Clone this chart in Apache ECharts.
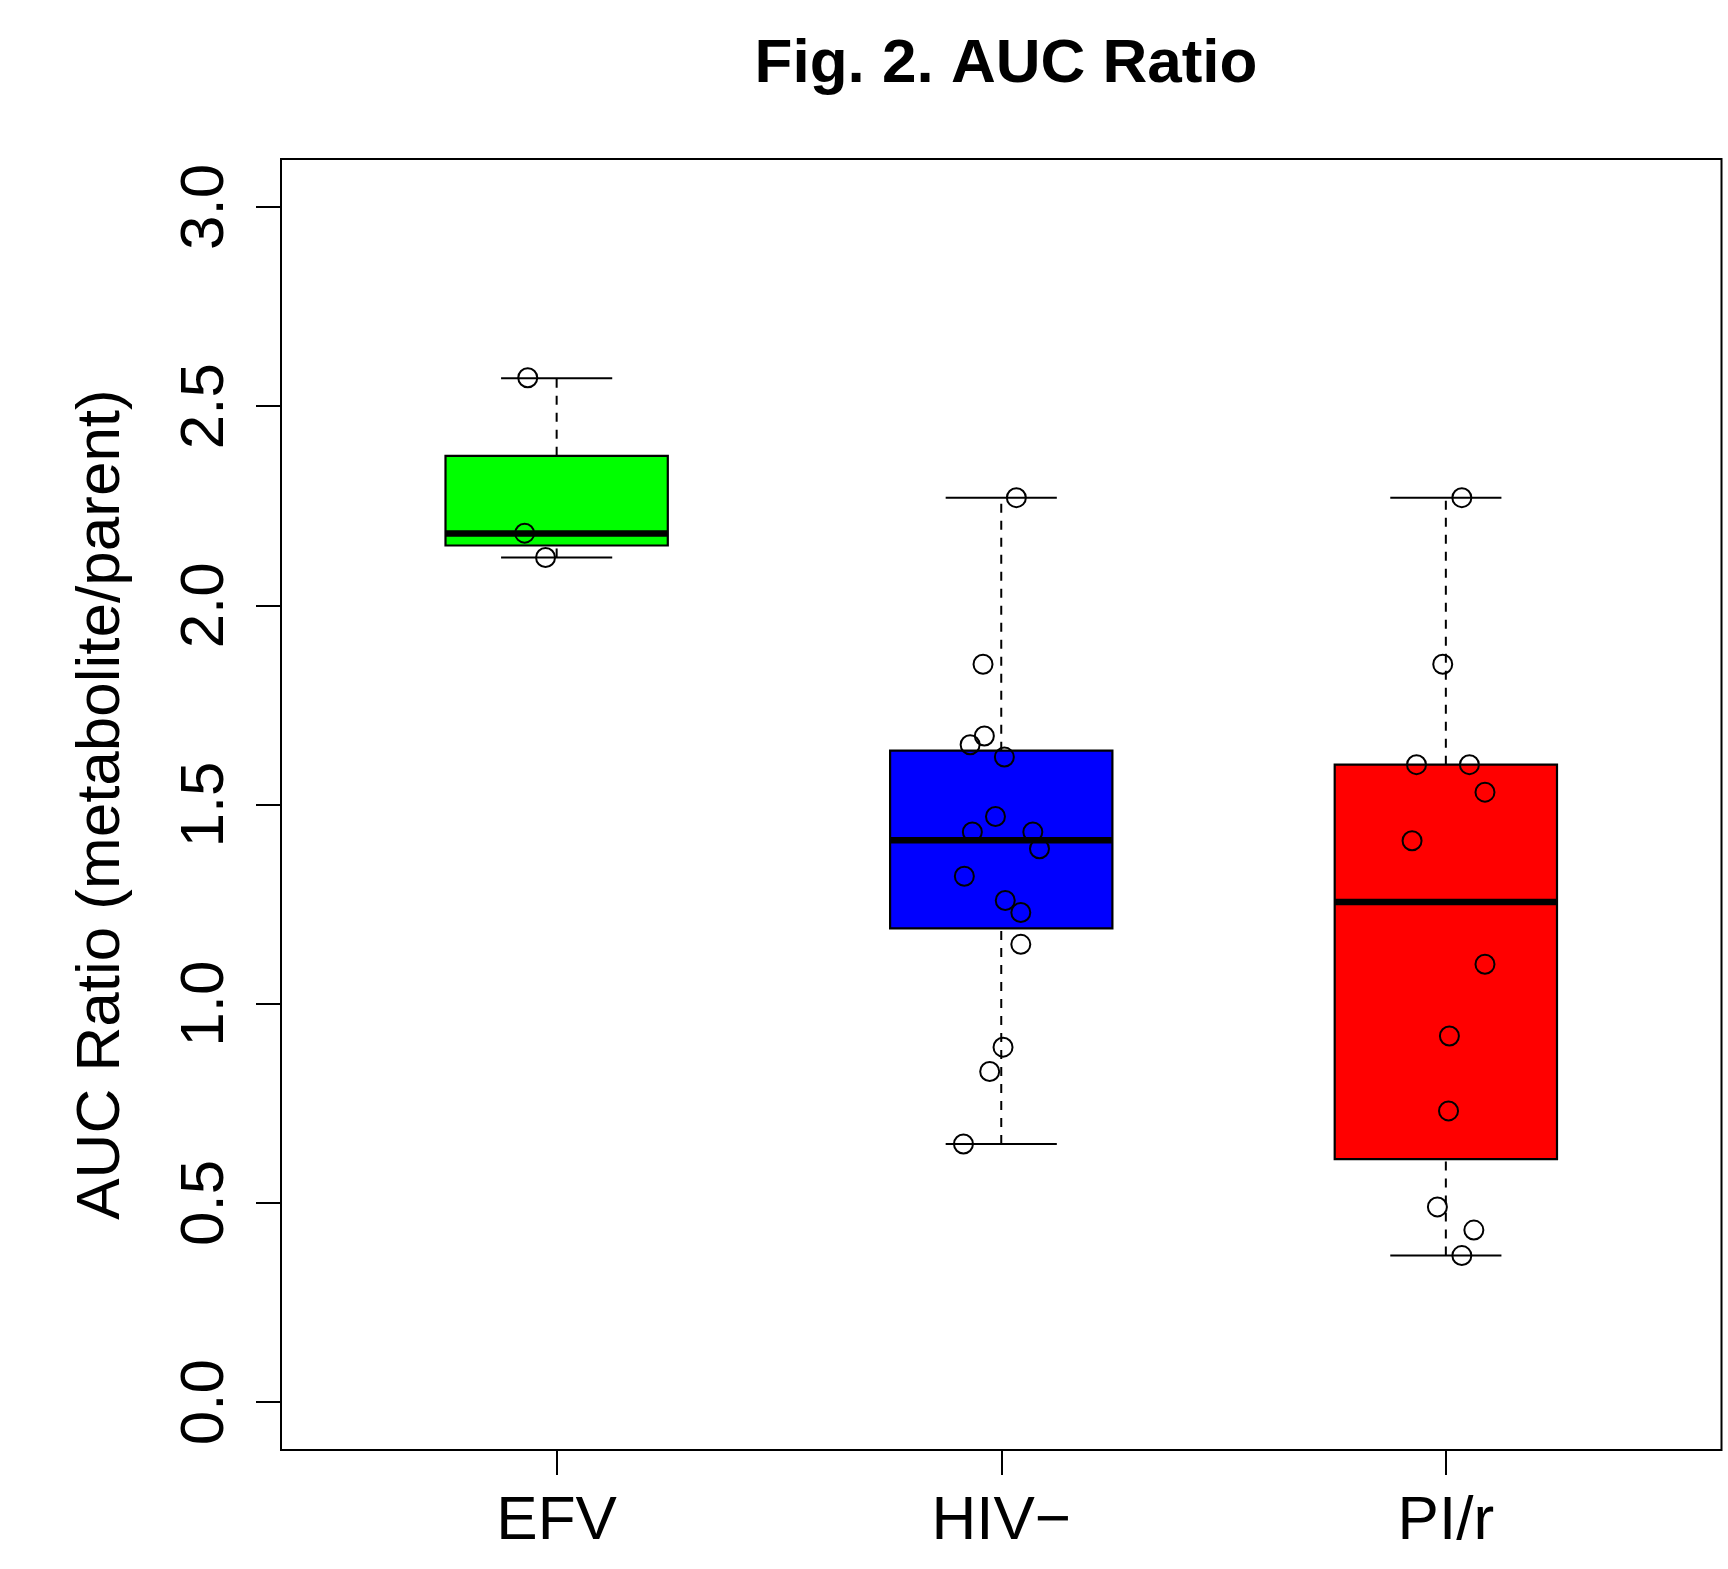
<!DOCTYPE html>
<html>
<head>
<meta charset="utf-8">
<script src="https://cdn.jsdelivr.net/npm/echarts@6/dist/echarts.min.js"></script>
<style>
html,body{margin:0;padding:0;background:#fff;}
#chart{width:1728px;height:1569px;}
</style>
</head>
<body>
<div id="chart"></div>
<script>
// ---- data ----
const categories = ['EFV', 'HIV\u2212', 'PI/r'];
const categoryPositions = [1, 2, 3];
const boxColors = ['#00FF00', '#0000FF', '#FF0000'];
// [lower whisker, Q1, median, Q3, upper whisker]
const efvBox = [2.12, 2.15, 2.18, 2.375, 2.57];
const hivBox = [0.648, 1.189, 1.41, 1.635, 2.27];
const pirBox = [0.368, 0.61, 1.255, 1.60, 2.27];
// jittered individual points [x, value]
const efvPoints = [[0.935, 2.571], [0.928, 2.181], [0.975, 2.120]];
const hivPoints = [
  [2.034, 2.270], [1.959, 1.852], [1.962, 1.672], [1.930, 1.650],
  [2.007, 1.619], [1.987, 1.470], [1.935, 1.431], [2.071, 1.431],
  [2.086, 1.389], [1.917, 1.320], [2.009, 1.259], [2.044, 1.229],
  [2.044, 1.149], [2.004, 0.891], [1.974, 0.830], [1.915, 0.648]
];
const pirPoints = [
  [3.036, 2.270], [2.993, 1.852], [2.934, 1.600], [3.053, 1.600],
  [3.088, 1.531], [2.924, 1.409], [3.088, 1.099], [3.008, 0.919],
  [3.006, 0.731], [2.981, 0.490], [3.063, 0.432], [3.036, 0.368]
];
const yTicks = [0, 0.5, 1.0, 1.5, 2.0, 2.5, 3.0];

// ---- chart ----
const FONT = '"Liberation Sans", Arial, Helvetica, sans-serif';
const BOX_HALF = 0.25, CAP_HALF = 0.125;
const boxData = [efvBox, hivBox, pirBox].map((b, i) => [categoryPositions[i]].concat(b));

function renderBox(params, api) {
  const x = api.value(0);
  const lo = api.value(1), q1 = api.value(2), med = api.value(3), q3 = api.value(4), hi = api.value(5);
  const c = (xx, yy) => api.coord([xx, yy]);
  const tl = c(x - BOX_HALF, q3), br = c(x + BOX_HALF, q1);
  const dash = {stroke: '#000', lineWidth: 2, lineDash: [9, 8]};
  const solid = {stroke: '#000', lineWidth: 2};
  const line = (p1, p2, style) => ({type: 'line', shape: {x1: p1[0], y1: p1[1], x2: p2[0], y2: p2[1]}, style: style});
  return {
    type: 'group',
    children: [
      line(c(x, q3), c(x, hi), dash),
      line(c(x, lo), c(x, q1), dash),
      line(c(x - CAP_HALF, hi), c(x + CAP_HALF, hi), solid),
      line(c(x - CAP_HALF, lo), c(x + CAP_HALF, lo), solid),
      {type: 'rect', shape: {x: tl[0], y: tl[1], width: br[0] - tl[0], height: br[1] - tl[1]},
       style: {fill: boxColors[params.dataIndex], stroke: '#000', lineWidth: 2.2}},
      line(c(x - BOX_HALF, med), c(x + BOX_HALF, med), {stroke: '#000', lineWidth: 6.5})
    ]
  };
}

const chart = echarts.init(document.getElementById('chart'), null, {renderer: 'canvas'});
chart.setOption({
  animation: false,
  backgroundColor: '#fff',
  title: {
    text: 'Fig. 2. AUC Ratio',
    left: 1001, top: 29, textAlign: 'center',
    textStyle: {fontFamily: FONT, fontSize: 62, fontWeight: 'bold', color: '#000'}
  },
  grid: {left: 281, top: 159, right: 6.5, bottom: 119, show: true, borderColor: '#000', borderWidth: 2, backgroundColor: 'transparent', containLabel: false},
  xAxis: {
    type: 'value', min: 0.38, max: 3.62,
    splitLine: {show: false},
    axisLine: {show: false, onZero: false},
    axisTick: {show: true, customValues: categoryPositions, length: 25, lineStyle: {color: '#000', width: 2}},
    axisLabel: {
      customValues: categoryPositions, margin: 41,
      formatter: v => categories[categoryPositions.indexOf(Math.round(v))] || '',
      fontFamily: FONT, fontSize: 62, color: '#000'
    }
  },
  yAxis: {
    type: 'value', min: -0.12, max: 3.12,
    name: 'AUC Ratio (metabolite/parent)', nameLocation: 'middle', nameGap: 148,
    nameTextStyle: {fontFamily: FONT, fontSize: 62, color: '#000'},
    splitLine: {show: false},
    axisLine: {show: false, onZero: false},
    axisTick: {show: true, customValues: yTicks, length: 25, lineStyle: {color: '#000', width: 2}},
    axisLabel: {
      customValues: yTicks, rotate: 90, margin: 44,
      formatter: v => Number(v).toFixed(1),
      fontFamily: FONT, fontSize: 62, color: '#000'
    }
  },
  series: [
    {
      type: 'custom', renderItem: renderBox, data: boxData,
      encode: {x: 0, y: [1, 2, 3, 4, 5]}, silent: true, z: 2
    },
    {
      type: 'scatter', data: efvPoints.concat(hivPoints, pirPoints),
      symbol: 'circle', symbolSize: 19, silent: true, z: 3,
      itemStyle: {color: 'rgba(0,0,0,0)', borderColor: '#000', borderWidth: 2, opacity: 1}
    }
  ]
});
</script>
</body>
</html>
